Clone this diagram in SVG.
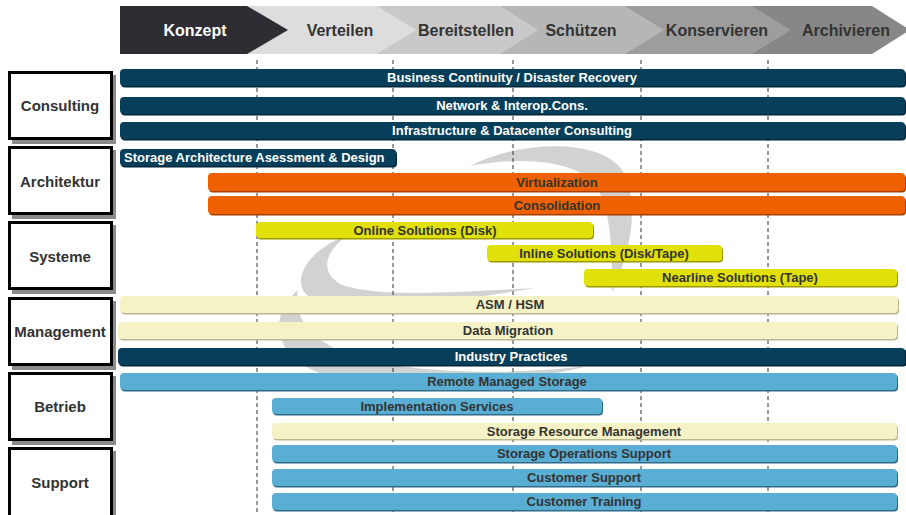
<svg xmlns="http://www.w3.org/2000/svg" width="906" height="515" viewBox="0 0 906 515">
<style>
.hd{font-family:"Liberation Sans",Arial,sans-serif;font-weight:bold;font-size:16px;fill:#333;text-anchor:middle}
.lb{font-family:"Liberation Sans",Arial,sans-serif;font-weight:bold;font-size:15px;fill:#333;text-anchor:middle}
.bt{font-family:"Liberation Sans",Arial,sans-serif;font-weight:bold;font-size:13px;fill:#333;text-anchor:middle}
.st{text-anchor:start}
.w{fill:#fff}
.box{fill:#fff;stroke:#000;stroke-width:3}
.bsh{fill:#8a8a8a}
.dash{stroke:#333;stroke-width:1;stroke-dasharray:4 3}
.teal{fill:#073f5a}.tealS{fill:#02263a}
.org{fill:#ef6000}.orgS{fill:#a63f00}
.yel{fill:#e2e00b}.yelS{fill:#9b9900}
.ly{fill:#f5f3c6}.lyS{fill:#b9b792}
.blu{fill:#5aaed3}.bluS{fill:#2d6b88}
</style>
<rect width="906" height="515" fill="#fff"/>
<g id="swoosh" fill="#d2d2d2">
<path d="M470 166 C520 140 600 138 622 170 C640 200 632 250 612 292 C612 250 612 205 592 180 C565 158 510 158 470 166 Z"/>
<path d="M350 234 C300 252 285 292 320 302 C380 314 460 300 535 288 C460 292 380 298 342 285 C318 272 325 250 350 234 Z"/>
<path d="M298 290 C262 322 278 366 340 379 C420 393 520 383 588 366 C510 375 420 374 360 358 C312 344 292 318 298 290 Z"/>
</g>
<g id="header">
<polygon points="752,6 872,6 910,30 872,54 752,54" fill="#878787"/>
<polygon points="625,6 752,6 791,30 752,54 625,54" fill="#9d9d9d"/>
<polygon points="500,6 625,6 664,30 625,54 500,54" fill="#b6b6b6"/>
<polygon points="377,6 500,6 538,30 500,54 377,54" fill="#c9c9c9"/>
<polygon points="247,6 377,6 416,30 377,54 247,54" fill="#dddddd"/>
<polygon points="120,6 247,6 288,30 247,54 120,54" fill="#2e2d33"/>
<text class="hd w" x="195" y="36">Konzept</text>
<text class="hd" x="340" y="36">Verteilen</text>
<text class="hd" x="466" y="36">Bereitstellen</text>
<text class="hd" x="581" y="36">Schützen</text>
<text class="hd" x="717" y="36">Konservieren</text>
<text class="hd" x="846" y="36">Archivieren</text>
</g>
<g id="gridlines">
<line class="dash" x1="257" y1="60" x2="257" y2="515"/>
<line class="dash" x1="393" y1="60" x2="393" y2="515"/>
<line class="dash" x1="513" y1="60" x2="513" y2="515"/>
<line class="dash" x1="641" y1="60" x2="641" y2="515"/>
<line class="dash" x1="768" y1="60" x2="768" y2="515"/>
</g>
<g id="categories">
<g id="cat-consulting"><rect class="bsh" x="12" y="75" width="104" height="69"/><rect class="box" x="9.5" y="72.5" width="102" height="66"/><text class="lb" x="60" y="111">Consulting</text></g>
<g id="cat-architektur"><rect class="bsh" x="12" y="150" width="104" height="69"/><rect class="box" x="9.5" y="147.5" width="102" height="66"/><text class="lb" x="60" y="187">Architektur</text></g>
<g id="cat-systeme"><rect class="bsh" x="12" y="225" width="104" height="69"/><rect class="box" x="9.5" y="222.5" width="102" height="66"/><text class="lb" x="60" y="262">Systeme</text></g>
<g id="cat-management"><rect class="bsh" x="12" y="301" width="104" height="69"/><rect class="box" x="9.5" y="298.5" width="102" height="66"/><text class="lb" x="60" y="337">Management</text></g>
<g id="cat-betrieb"><rect class="bsh" x="12" y="376" width="104" height="69"/><rect class="box" x="9.5" y="373.5" width="102" height="66"/><text class="lb" x="60" y="412">Betrieb</text></g>
<g id="cat-support"><rect class="bsh" x="12" y="451" width="104" height="69"/><rect class="box" x="9.5" y="448.5" width="102" height="70"/><text class="lb" x="60" y="488">Support</text></g>
</g>
<g id="bars">
<g id="b1"><rect class="tealS" x="121" y="70.5" width="785" height="17" rx="4"/><rect class="teal" x="120" y="69" width="785" height="17" rx="4"/><text class="bt w" x="512" y="82">Business Continuity / Disaster Recovery</text></g>
<g id="b2"><rect class="tealS" x="121" y="98.5" width="785" height="17" rx="4"/><rect class="teal" x="120" y="97" width="785" height="17" rx="4"/><text class="bt w" x="512" y="110">Network &amp; Interop.Cons.</text></g>
<g id="b3"><rect class="tealS" x="121" y="123.5" width="785" height="17" rx="4"/><rect class="teal" x="120" y="122" width="785" height="17" rx="4"/><text class="bt w" x="512" y="135">Infrastructure &amp; Datacenter Consulting</text></g>
<g id="b4"><rect class="tealS" x="121" y="150.5" width="276" height="17" rx="4"/><rect class="teal" x="120" y="149" width="276" height="17" rx="4"/><text class="bt w st" x="124" y="162">Storage Architecture Asessment &amp; Design</text></g>
<g id="b5"><rect class="orgS" x="209" y="174.5" width="697" height="18" rx="4"/><rect class="org" x="208" y="173" width="697" height="18" rx="4"/><text class="bt" x="557" y="187">Virtualization</text></g>
<g id="b6"><rect class="orgS" x="209" y="197.5" width="697" height="18" rx="4"/><rect class="org" x="208" y="196" width="697" height="18" rx="4"/><text class="bt" x="557" y="210">Consolidation</text></g>
<g id="b7"><rect class="yelS" x="257" y="223.5" width="337" height="16" rx="4"/><rect class="yel" x="256" y="222" width="337" height="16" rx="4"/><text class="bt" x="425" y="235">Online Solutions (Disk)</text></g>
<g id="b8"><rect class="yelS" x="488" y="246.5" width="235" height="16" rx="4"/><rect class="yel" x="487" y="245" width="235" height="16" rx="4"/><text class="bt" x="604" y="258">Inline Solutions (Disk/Tape)</text></g>
<g id="b9"><rect class="yelS" x="585" y="270.5" width="313" height="17" rx="4"/><rect class="yel" x="584" y="269" width="313" height="17" rx="4"/><text class="bt" x="740" y="282">Nearline Solutions (Tape)</text></g>
<g id="b10"><rect class="lyS" x="121" y="297.5" width="778" height="17" rx="4"/><rect class="ly" x="120" y="296" width="778" height="17" rx="4"/><text class="bt" x="510" y="309">ASM / HSM</text></g>
<g id="b11"><rect class="lyS" x="119" y="323.5" width="779" height="17" rx="4"/><rect class="ly" x="118" y="322" width="779" height="17" rx="4"/><text class="bt" x="508" y="335">Data Migration</text></g>
<g id="b12"><rect class="tealS" x="119" y="349.5" width="788" height="17" rx="4"/><rect class="teal" x="118" y="348" width="787" height="17" rx="4"/><text class="bt w" x="511" y="361">Industry Practices</text></g>
<g id="b13"><rect class="bluS" x="121" y="374.5" width="777" height="17" rx="4"/><rect class="blu" x="120" y="373" width="777" height="17" rx="4"/><text class="bt" x="507" y="386">Remote Managed Storage</text></g>
<g id="b14"><rect class="bluS" x="273" y="399.5" width="330" height="16" rx="4"/><rect class="blu" x="272" y="398" width="330" height="16" rx="4"/><text class="bt" x="437" y="411">Implementation Services</text></g>
<g id="b15"><rect class="lyS" x="273" y="424.5" width="625" height="16" rx="4"/><rect class="ly" x="272" y="423" width="625" height="16" rx="4"/><text class="bt" x="584" y="436">Storage Resource Management</text></g>
<g id="b16"><rect class="bluS" x="273" y="446.5" width="625" height="17" rx="4"/><rect class="blu" x="272" y="445" width="625" height="17" rx="4"/><text class="bt" x="584" y="458">Storage Operations Support</text></g>
<g id="b17"><rect class="bluS" x="273" y="470.5" width="625" height="17" rx="4"/><rect class="blu" x="272" y="469" width="625" height="17" rx="4"/><text class="bt" x="584" y="482">Customer Support</text></g>
<g id="b18"><rect class="bluS" x="273" y="494.5" width="625" height="17" rx="4"/><rect class="blu" x="272" y="493" width="625" height="17" rx="4"/><text class="bt" x="584" y="506">Customer Training</text></g>
</g>
</svg>
